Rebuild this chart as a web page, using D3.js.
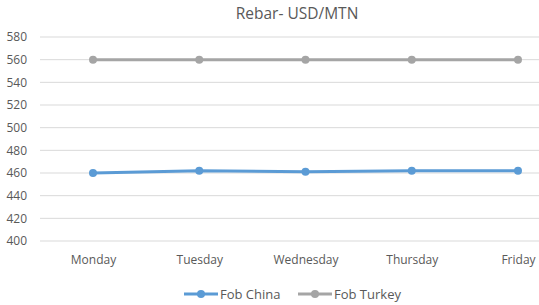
<!DOCTYPE html>
<html>
<head>
<meta charset="utf-8">
<script src="https://cdn.jsdelivr.net/npm/d3@7"></script>
<style>
  body { margin: 0; background: #fff; }
  svg { display: block; font-family: "Open Sans", sans-serif; }
</style>
</head>
<body>
<div id="chart"></div>
<script>
// --- Data ---
const days = ["Monday", "Tuesday", "Wednesday", "Thursday", "Friday"];
const fobChina = [460, 462, 461, 462, 462];
const fobTurkey = [560, 560, 560, 560, 560];
const yTicks = [400, 420, 440, 460, 480, 500, 520, 540, 560, 580];

(function(){
    const W = 539, H = 305;
    const svg = d3.select("#chart").append("svg")
        .attr("width", W).attr("height", H);

    const x = d3.scalePoint().domain(days).range([93, 518]);
    const y = d3.scaleLinear().domain([400, 580]).range([241, 37]);

    // gridlines
    svg.append("g")
        .selectAll("line")
        .data(yTicks)
        .join("line")
        .attr("x1", 40).attr("x2", W)
        .attr("y1", d => y(d)).attr("y2", d => y(d))
        .attr("stroke", "#d9d9d9").attr("stroke-width", 1);

    // y axis labels
    svg.append("g")
        .attr("transform", "translate(27,0)")
        .call(d3.axisLeft(y).tickValues(yTicks).tickSize(0).tickPadding(0))
        .call(g => g.select(".domain").remove())
        .call(g => g.selectAll("text")
            .attr("fill", "#595959").style("font-size", "12px")
            .style("font-family", "'Open Sans', sans-serif"));

    // x axis labels
    svg.append("g")
        .attr("transform", "translate(0,255)")
        .call(d3.axisBottom(x).tickSize(0).tickPadding(0))
        .call(g => g.select(".domain").remove())
        .call(g => g.selectAll("text")
            .attr("fill", "#595959").style("font-size", "12px")
            .style("font-family", "'Open Sans', sans-serif"));

    // title
    svg.append("text")
        .attr("x", 297).attr("y", 19)
        .attr("text-anchor", "middle")
        .attr("fill", "#595959")
        .style("font-size", "15.5px")
        .text("Rebar- USD/MTN");

    const series = [
        { name: "Fob China", values: fobChina, color: "#5b9bd5" },
        { name: "Fob Turkey", values: fobTurkey, color: "#a5a5a5" }
    ];

    const line = d3.line()
        .x((d, i) => x(days[i]))
        .y(d => y(d));

    series.slice().reverse().forEach(s => {
        svg.append("path")
            .datum(s.values)
            .attr("d", line)
            .attr("fill", "none")
            .attr("stroke", s.color)
            .attr("stroke-width", 3)
            .attr("stroke-linejoin", "round");
        svg.append("g")
            .selectAll("circle")
            .data(s.values)
            .join("circle")
            .attr("cx", (d, i) => x(days[i]))
            .attr("cy", d => y(d))
            .attr("r", 4)
            .attr("fill", s.color);
    });

    // legend
    const legendX = [184, 298];
    series.forEach((s, i) => {
        const g = svg.append("g").attr("transform", `translate(${legendX[i]},294)`);
        g.append("line")
            .attr("x1", 0).attr("x2", 34)
            .attr("stroke", s.color).attr("stroke-width", 3);
        g.append("circle").attr("cx", 17).attr("r", 4).attr("fill", s.color);
        g.append("text")
            .attr("x", 36).attr("y", 4.5)
            .attr("fill", "#595959")
            .style("font-size", "13px")
            .text(s.name);
    });
})();
</script>
</body>
</html>
